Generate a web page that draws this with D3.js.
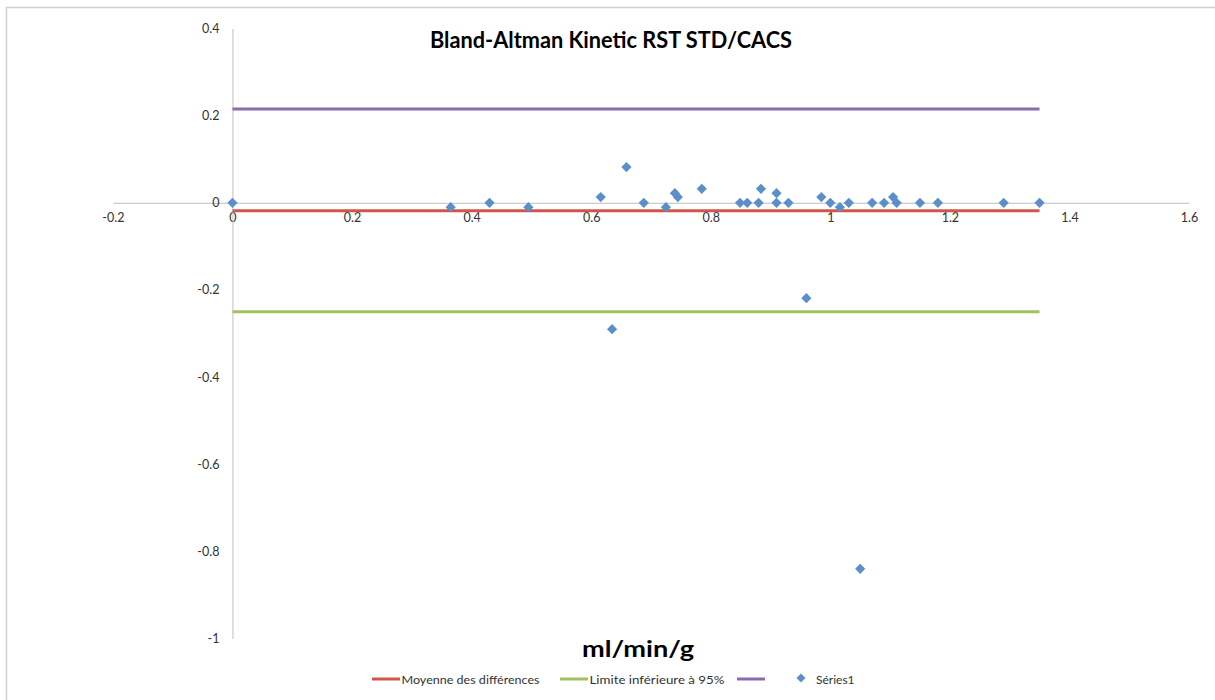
<!DOCTYPE html>
<html>
<head>
<meta charset="utf-8">
<script src="https://cdn.jsdelivr.net/npm/d3@7"></script>
<style>
html,body{margin:0;padding:0;background:#fff;}
svg{display:block;}
text{font-family:Lato,"Open Sans",sans-serif;}
</style>
</head>
<body>
<svg id="chart" width="1215" height="700"></svg>
<script>
// ---- data ----
const chartTitle = "Bland-Altman Kinetic RST STD/CACS";
const xAxisTitle = "ml/min/g";
const xTicks = [-0.2, 0, 0.2, 0.4, 0.6, 0.8, 1, 1.2, 1.4, 1.6];
const xTickLabels = ["-0.2","0","0.2","0.4","0.6","0.8","1","1.2","1.4","1.6"];
const yTicks = [0.4, 0.2, 0, -0.2, -0.4, -0.6, -0.8, -1];
const yTickLabels = ["0.4","0.2","0","-0.2","-0.4","-0.6","-0.8","-1"];
const xValues = [0, 0.365, 0.43, 0.495, 0.616, 0.635, 0.659, 0.688, 0.725, 0.74, 0.745, 0.785, 0.849, 0.861, 0.88, 0.884, 0.91, 0.91, 0.93, 0.96, 0.985, 1.0, 1.016, 1.031, 1.05, 1.07, 1.09, 1.105, 1.111, 1.15, 1.18, 1.29, 1.35];
const yValues = [0, -0.01, 0, -0.01, 0.013, -0.29, 0.082, 0, -0.01, 0.022, 0.013, 0.032, 0, 0, 0, 0.032, 0.022, 0, 0, -0.219, 0.013, 0, -0.01, 0, -0.84, 0, 0, 0.013, 0, 0, 0, 0, 0];
const refNames = ["Moyenne des différences", "Limite inférieure à 95%", ""];
const refValues = [-0.018, -0.25, 0.215];
const refXRange = [0, 1.35];
const seriesName = "Séries1";

// ---- styles ----
const refColors = ["#d0564c", "#a2c15c", "#8a6bb0"];
const pointColor = "#5b8fcb";
const axisColor = "#bfbfbf";
const textColor = "#333333";

const svg = d3.select("#chart");

// frame (top and left edges)
svg.append("line").attr("x1",6).attr("x2",1215).attr("y1",7.5).attr("y2",7.5)
  .attr("stroke","#d0d0d0").attr("stroke-width",1.5);
svg.append("line").attr("x1",6.5).attr("x2",6.5).attr("y1",7).attr("y2",700)
  .attr("stroke","#d0d0d0").attr("stroke-width",1.5);

const x = d3.scaleLinear().domain([-0.2, 1.6]).range([112.9, 1189]);
const y = d3.scaleLinear().domain([-1, 0.4]).range([638.5, 28.5]);

// horizontal axis through y=0
const xAxis = d3.axisBottom(x).tickValues(xTicks).tickSize(0).tickPadding(10)
  .tickFormat((d,i) => xTickLabels[i]);
const gx = svg.append("g").attr("transform", `translate(0,${y(0)})`).call(xAxis);
gx.select(".domain").attr("stroke", axisColor).attr("stroke-width",1);
gx.selectAll("text").attr("fill", textColor).style("font-size","12.5px")
  .style("font-family","Lato, 'Open Sans', sans-serif");

// vertical axis through x=0
const yAxis = d3.axisLeft(y).tickValues(yTicks).tickSize(0).tickPadding(13)
  .tickFormat((d,i) => yTickLabels[i]);
const gy = svg.append("g").attr("transform", `translate(${x(0)},0)`).call(yAxis);
gy.select(".domain").attr("stroke", axisColor).attr("stroke-width",1);
gy.selectAll("text").attr("fill", textColor).style("font-size","12.5px")
  .style("font-family","Lato, 'Open Sans', sans-serif");

// reference lines
svg.append("g").selectAll("line").data(refValues).join("line")
  .attr("x1", x(refXRange[0])).attr("x2", x(refXRange[1]))
  .attr("y1", d => y(d)).attr("y2", d => y(d))
  .attr("stroke", (d,i) => refColors[i]).attr("stroke-width", 3);

// points
const diamond = d3.symbol(d3.symbolSquare, 52);
svg.append("g").selectAll("path").data(xValues.map((v,i)=>[v,yValues[i]])).join("path")
  .attr("d", diamond)
  .attr("transform", d => `translate(${x(d[0])},${y(d[1])}) rotate(45)`)
  .attr("fill", pointColor);

// title
const t = svg.append("text").attr("x", 611).attr("y", 48).attr("text-anchor","middle")
  .style("font-size","23px").style("font-weight","bold").attr("fill","#000").text(chartTitle);
t.attr("textLength", 362).attr("lengthAdjust","spacingAndGlyphs");

// x axis title
svg.append("text").attr("x", 638).attr("y", 657).attr("text-anchor","middle")
  .style("font-size","22px").style("font-weight","bold").attr("fill","#000")
  .attr("textLength", 112).attr("lengthAdjust","spacingAndGlyphs")
  .text(xAxisTitle);

// legend
const legendY = 679;
const legendItems = [
  {x0: 372, x1: 400, tx: 401.5, color: refColors[0], label: refNames[0], w: 138},
  {x0: 560, x1: 588, tx: 589.5, color: refColors[1], label: refNames[1], w: 135},
  {x0: 737, x1: 765, tx: 766, color: refColors[2], label: refNames[2], w: 0}
];
const lg = svg.append("g");
legendItems.forEach(it => {
  lg.append("line").attr("x1", it.x0).attr("x2", it.x1).attr("y1", legendY).attr("y2", legendY)
    .attr("stroke", it.color).attr("stroke-width", 3);
  if (it.label) {
    lg.append("text").attr("x", it.tx).attr("y", legendY + 4.5)
      .style("font-size","12px").attr("fill", textColor)
      .attr("textLength", it.w).attr("lengthAdjust","spacingAndGlyphs")
      .text(it.label);
  }
});
lg.append("path").attr("d", d3.symbol(d3.symbolSquare, 40))
  .attr("transform", `translate(801,${legendY-1}) rotate(45)`).attr("fill", pointColor);
lg.append("text").attr("x", 816).attr("y", legendY + 4.5)
  .style("font-size","12px").attr("fill", textColor).text(seriesName);
</script>
</body>
</html>
